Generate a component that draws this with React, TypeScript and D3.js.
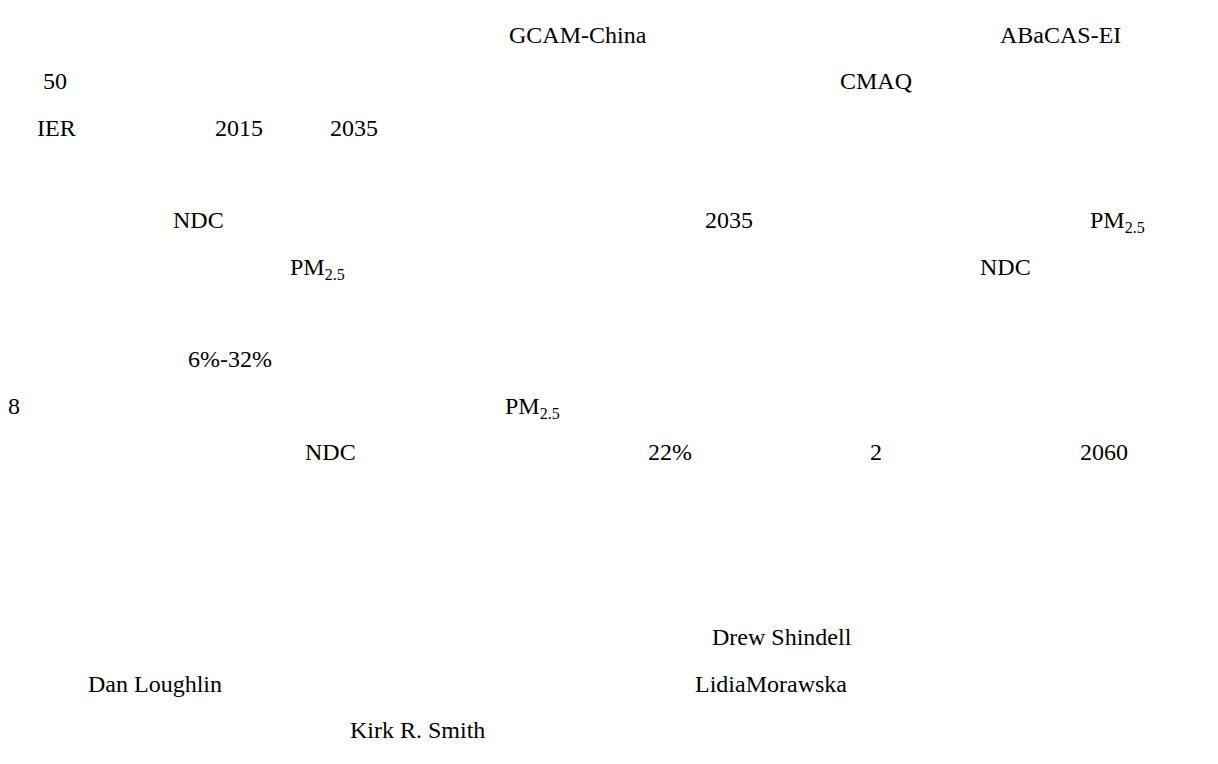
import React from 'react';
import * as d3 from 'd3';

// text runs that survived in the reference (CJK glyphs are missing there)
const lines = [0, 0, 1, 1, 2, 2, 2, 4, 4, 4, 5, 5, 7, 8, 8, 9, 9, 9, 9, 13, 14, 14, 15];
const cols = [509, 1000, 43, 840, 37, 215, 330, 173, 705, 1090, 290, 980, 188, 8, 505, 305, 648, 870, 1080, 712, 88, 695, 350];
const texts = [
  'GCAM-China', 'ABaCAS-EI',
  '50', 'CMAQ',
  'IER', '2015', '2035',
  'NDC', '2035', 'PM|2.5',
  'PM|2.5', 'NDC',
  '6%-32%',
  '8', 'PM|2.5',
  'NDC', '22%', '2', '2060',
  'Drew Shindell',
  'Dan Loughlin', 'LidiaMorawska',
  'Kirk R. Smith',
];

const width = 1218;
const height = 764;

export default function App() {
  // one text line every ~46.3px
  const y = d3.scaleLinear().domain([0, 15]).range([43, 738]);
  const x = d3.scaleLinear().domain([0, width]).range([0, width]);

  return (
    <svg
      width={width}
      height={height}
      style={{ position: 'absolute', left: 0, top: 0, background: '#fff' }}
      fontFamily="'Liberation Serif', 'Times New Roman', serif"
      fontSize={24}
      fill="#000"
    >
      {texts.map((t, i) => {
        const [main, sub] = t.split('|');
        return (
          <text key={i} x={x(cols[i])} y={y(lines[i])}>
            {main}
            {sub && (
              <tspan fontSize={16} dy={5}>
                {sub}
              </tspan>
            )}
          </text>
        );
      })}
    </svg>
  );
}
